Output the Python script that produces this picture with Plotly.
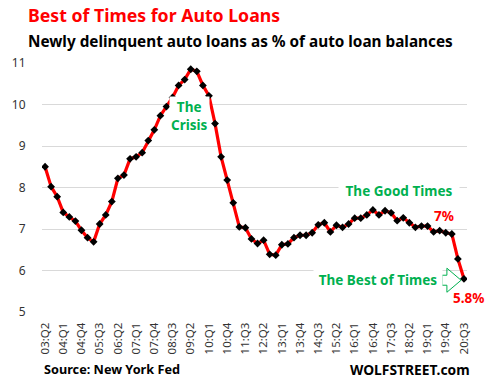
import plotly.graph_objects as go

# Quarterly data 2003Q2 .. 2020Q3
quarters = []
for yr in range(2003, 2021):
    for q in range(1, 5):
        if (yr == 2003 and q < 2) or (yr == 2020 and q > 3):
            continue
        quarters.append(f"{yr % 100:02d}:Q{q}")

values = [8.50, 8.02, 7.78, 7.40, 7.29, 7.19, 6.97, 6.79, 6.69, 7.12,
          7.34, 7.66, 8.22, 8.30, 8.69, 8.74, 8.84, 9.13, 9.39, 9.73,
          9.95, 10.17, 10.46, 10.60, 10.85, 10.80, 10.46, 10.21, 9.54, 8.74,
          8.18, 7.63, 7.05, 7.03, 6.76, 6.65, 6.73, 6.39, 6.37, 6.62,
          6.64, 6.79, 6.85, 6.85, 6.91, 7.10, 7.15, 6.93, 7.09, 7.04,
          7.12, 7.26, 7.26, 7.34, 7.46, 7.34, 7.44, 7.39, 7.20, 7.27,
          7.15, 7.04, 7.07, 7.07, 6.93, 6.96, 6.91, 6.88, 6.28, 5.80]

tick_idx = list(range(0, len(quarters), 3))
tick_labels = [quarters[i] for i in tick_idx]
y_ticks = [5, 6, 7, 8, 9, 10, 11]

W, H = 490, 385
PL, PR, PT, PB = 34, 467, 63.3, 311.7          # plot area in screenshot px
L, T, R, B = PL, PT, W - PR, H - PB
PW, PH = PR - PL, PB - PT


def px(x):
    return (x - PL) / PW


def py(y):
    return (PB - y) / PH


FONT = "Noto Sans"
GREEN = "#00B050"

fig = go.Figure()
fig.add_trace(go.Scatter(
    x=list(range(len(values))), y=values, mode="lines+markers",
    line=dict(color="#FF0000", width=3.2),
    marker=dict(symbol="diamond", color="black", size=6),
    hoverinfo="skip", showlegend=False))

# block arrow outline (pixel positions -> paper)
arrow_pts = [(441.5, 275), (446.5, 275), (446.5, 268), (461, 280),
             (446.5, 292), (446.5, 285), (441.5, 285)]
path = "M " + " L ".join(f"{px(a):.4f},{py(b):.4f}" for a, b in arrow_pts) + " Z"

ann = []


def text(x, y, s, size, color, xanchor="center", bg=None, width=None):
    d = dict(x=px(x), y=py(y), xref="paper", yref="paper", text=s,
             showarrow=False, xanchor=xanchor, yanchor="middle",
             font=dict(family=FONT, size=size, color=color, weight="bold"))
    if bg:
        d.update(bgcolor=bg, borderpad=1)
    if width:
        d.update(width=width)
    ann.append(d)


text(18, 15, "Best of Times for Auto Loans", 17.7, "#FF0000", xanchor="left")
text(18, 41, "Newly delinquent auto loans as % of auto loan balances", 15.3, "black", xanchor="left")
text(184, 116, "The<br>Crisis", 13.5, GREEN, bg="white")
text(398, 191, "The Good Times", 13.5, GREEN, bg="white", width=118)
text(376, 280, "The Best of Times", 13.5, GREEN, bg="white", width=126)
text(444, 216, "7%", 13.5, "#FF0000")
text(469, 298, "5.8%", 13.5, "#FF0000")
text(34, 369, "Source: New York Fed", 12.7, "black", xanchor="left")
text(472, 369, "WOLFSTREET.com", 13.8, "black", xanchor="right")

fig.update_layout(
    width=W, height=H, margin=dict(l=L, r=R, t=T, b=B),
    paper_bgcolor="white", plot_bgcolor="white",
    annotations=ann,
    shapes=[dict(type="path", path=path, xref="paper", yref="paper",
                 layer="above",
                 line=dict(color=GREEN, width=1), fillcolor="rgba(0,0,0,0)")],
    xaxis=dict(range=[-0.5, 69.5], tickmode="array", tickvals=tick_idx,
               ticktext=tick_labels, tickangle=-90, showgrid=False,
               zeroline=False, showline=False, ticks="outside", ticklen=5,
               tickcolor="white",
               tickfont=dict(family=FONT, size=11.5, color="#333333")),
    yaxis=dict(range=[5, 11], tickvals=y_ticks, showgrid=True,
               gridcolor="#D9D9D9", gridwidth=1, zeroline=False,
               showline=False, ticks="outside", ticklen=13, tickcolor="white",
               tickfont=dict(family=FONT, size=12, color="#333333")),
)

fig.write_html("out.html", config={"displayModeBar": False},
               post_script="document.body.style.margin='0';"
                           "document.body.style.overflow='hidden';")
